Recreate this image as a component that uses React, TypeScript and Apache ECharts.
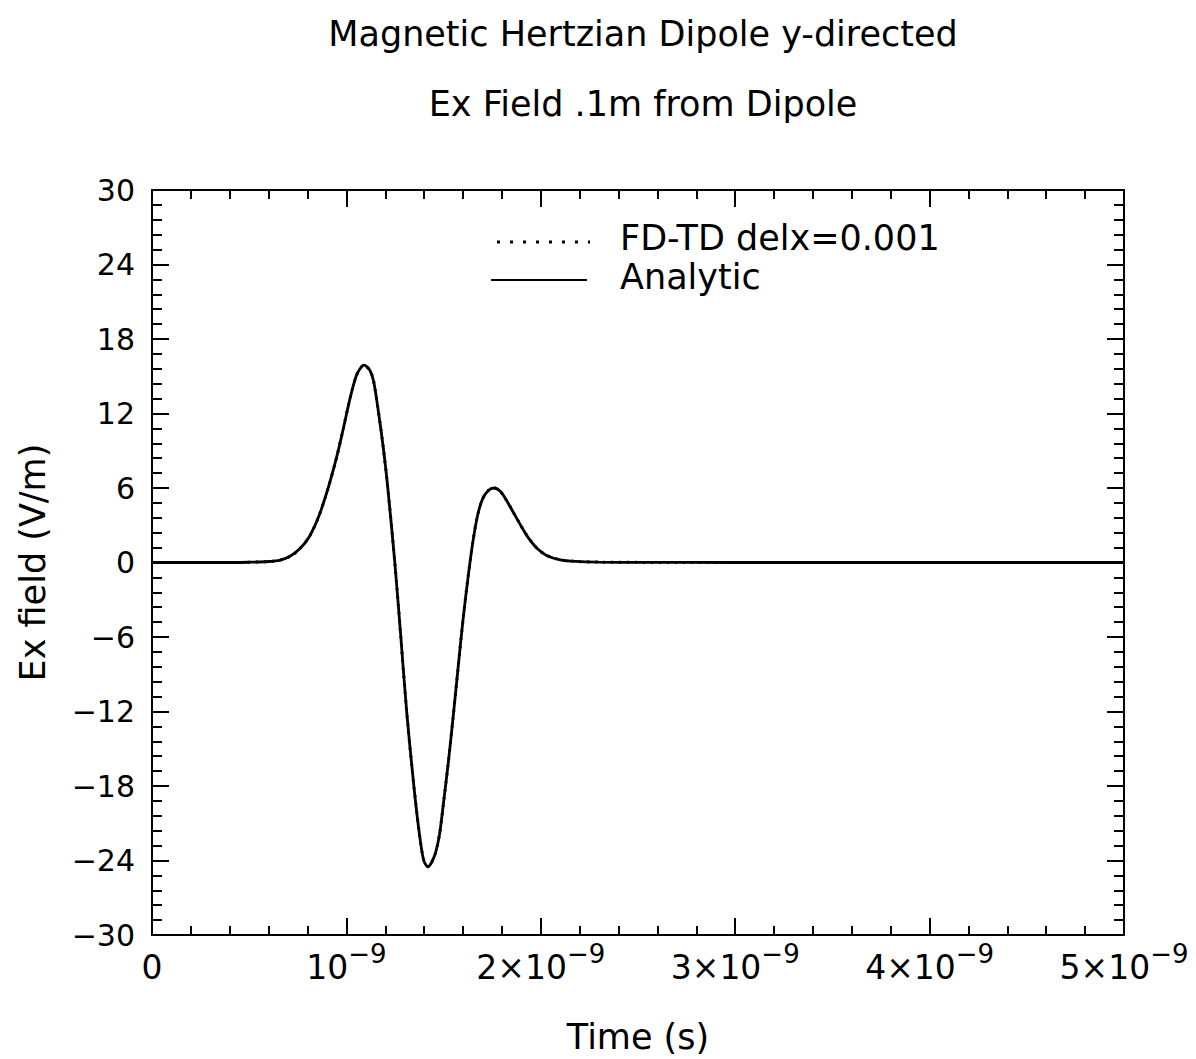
import React, { useEffect, useRef } from "react";
import * as echarts from "echarts";

// Time in units of 1e-9 s
const timeNs = [0, 0.2, 0.4, 0.5, 0.6, 0.66, 0.71, 0.76, 0.81, 0.86, 0.91, 0.95, 0.98, 1.02, 1.05, 1.07, 1.09, 1.12, 1.14, 1.166, 1.19, 1.213, 1.249, 1.28, 1.31, 1.347, 1.375, 1.398, 1.42, 1.44, 1.46, 1.48, 1.5, 1.525, 1.55, 1.575, 1.6, 1.625, 1.65, 1.675, 1.7, 1.73, 1.76, 1.79, 1.82, 1.86, 1.9, 1.94, 1.98, 2.03, 2.1, 2.18, 2.3, 2.5, 3, 3.5, 4, 4.5, 5];
const analytic = [0, 0, 0, 0.02, 0.08, 0.2, 0.5, 1.1, 2.1, 3.8, 6.2, 8.5, 10.5, 13.3, 15.0, 15.6, 15.9, 15.5, 14.6, 12.0, 9.2, 6.0, 0, -6.0, -12.0, -18.0, -21.8, -24.0, -24.5, -24.1, -23.3, -21.8, -19.3, -16.0, -12.3, -8.4, -4.6, -1.3, 1.6, 3.8, 5.1, 5.8, 6.0, 5.75, 5.1, 4.0, 2.9, 1.9, 1.15, 0.57, 0.22, 0.09, 0.03, 0.01, 0, 0, 0, 0, 0];
const fdtd = [0, 0, 0, 0.02, 0.08, 0.2, 0.5, 1.1, 2.1, 3.8, 6.2, 8.5, 10.5, 13.3, 15.0, 15.6, 15.9, 15.5, 14.6, 12.0, 9.2, 6.0, 0, -6.0, -12.0, -18.0, -21.8, -24.0, -24.5, -24.1, -23.3, -21.8, -19.3, -16.0, -12.3, -8.4, -4.6, -1.3, 1.6, 3.8, 5.1, 5.8, 6.0, 5.75, 5.1, 4.0, 2.9, 1.9, 1.15, 0.57, 0.22, 0.09, 0.03, 0.01, 0, 0, 0, 0, 0];

const titleLines = ["Magnetic Hertzian Dipole y-directed", "Ex Field .1m from Dipole"];
const seriesNames = ["FD-TD delx=0.001", "Analytic"];
const xName = "Time (s)";
const yName = "Ex field (V/m)";

const FONT = "DejaVu Sans";

export default function App() {
  const ref = useRef<HTMLDivElement>(null);
  useEffect(() => {
    if (!ref.current) return;
    const chart = echarts.init(ref.current, null, { renderer: "svg" });
    const grid = { left: 152, top: 190, right: 72, bottom: 122 };
    const tickStyle = { color: "#000", width: 2 };
    const xLabel = (v: number) => {
      const n = Math.round(v);
      if (n === 0) return "{b|0}";
      if (n === 1) return "{b|10}{s|−9}";
      return `{b|${n}×10}{s|−9}`;
    };
    const xBase = {
      type: "value",
      min: 0,
      max: 5,
      interval: 1,
      axisLine: { show: true, onZero: false, lineStyle: { color: "#000", width: 2 } },
      axisTick: { show: true, inside: true, length: 17, lineStyle: tickStyle },
      minorTick: { show: true, splitNumber: 5, length: 9, lineStyle: tickStyle },
      splitLine: { show: false },
    };
    const yBase = {
      type: "value",
      min: -30,
      max: 30,
      interval: 6,
      axisLine: { show: true, onZero: false, lineStyle: { color: "#000", width: 2 } },
      axisTick: { show: true, inside: true, length: 17, lineStyle: tickStyle },
      minorTick: { show: true, splitNumber: 5, length: 10, lineStyle: tickStyle },
      splitLine: { show: false },
    };
    chart.setOption({
      animation: false,
      backgroundColor: "#fff",
      title: [
        {
          text: titleLines[0],
          left: 638,
          top: 11,
          textAlign: "center",
          textStyle: { fontFamily: FONT, fontSize: 35, fontWeight: "normal", color: "#000" },
        },
        {
          text: titleLines[1],
          left: 638,
          top: 81,
          textAlign: "center",
          textStyle: { fontFamily: FONT, fontSize: 35, fontWeight: "normal", color: "#000" },
        },
      ],
      grid,
      xAxis: [
        {
          ...xBase,
          position: "bottom",
          name: xName,
          nameLocation: "middle",
          nameGap: 84,
          nameTextStyle: { fontFamily: FONT, fontSize: 35, color: "#000" },
          axisLabel: {
            show: true,
            margin: 5,
            formatter: xLabel,
            rich: {
              b: { fontFamily: FONT, fontSize: 33, color: "#000", lineHeight: 54 },
              s: { fontFamily: FONT, fontSize: 26, color: "#000", verticalAlign: "top", height: 27, lineHeight: 27 },
            },
          },
        },
        { ...xBase, position: "top", axisLabel: { show: false } },
      ],
      yAxis: [
        {
          ...yBase,
          position: "left",
          name: yName,
          nameLocation: "middle",
          nameGap: 102,
          nameTextStyle: { fontFamily: FONT, fontSize: 35, color: "#000" },
          axisLabel: {
            show: true,
            margin: 17,
            fontFamily: FONT,
            fontSize: 30,
            color: "#000",
            formatter: (v: number) => String(v).replace("-", "−"),
          },
        },
        { ...yBase, position: "right", axisLabel: { show: false } },
      ],
      series: [
        {
          name: seriesNames[1],
          type: "line",
          data: timeNs.map((t, i) => [t, analytic[i]]),
          showSymbol: false,
          symbol: "none",
          smooth: 0.3,
          lineStyle: { color: "#000", width: 2.8 },
        },
        {
          name: seriesNames[0],
          type: "line",
          data: timeNs.map((t, i) => [t, fdtd[i]]),
          showSymbol: false,
          symbol: "none",
          smooth: 0.3,
          lineStyle: { color: "#000", width: 3, type: [2, 6] },
        },
      ],
      graphic: [
        {
          type: "line",
          shape: { x1: 497, y1: 242, x2: 590, y2: 242 },
          style: { stroke: "#000", lineWidth: 3, lineDash: [3, 10] },
        },
        {
          type: "text",
          x: 620,
          y: 238,
          style: { text: seriesNames[0], fontFamily: FONT, fontSize: 35, fill: "#000", textVerticalAlign: "middle" },
        },
        {
          type: "line",
          shape: { x1: 491, y1: 280, x2: 587, y2: 280 },
          style: { stroke: "#000", lineWidth: 2 },
        },
        {
          type: "text",
          x: 620,
          y: 277,
          style: { text: seriesNames[1], fontFamily: FONT, fontSize: 35, fill: "#000", textVerticalAlign: "middle" },
        },
      ],
    });
    return () => chart.dispose();
  }, []);
  return (
    <div
      ref={ref}
      style={{ position: "absolute", left: 0, top: 0, width: 1196, height: 1059, background: "#fff" }}
    />
  );
}
